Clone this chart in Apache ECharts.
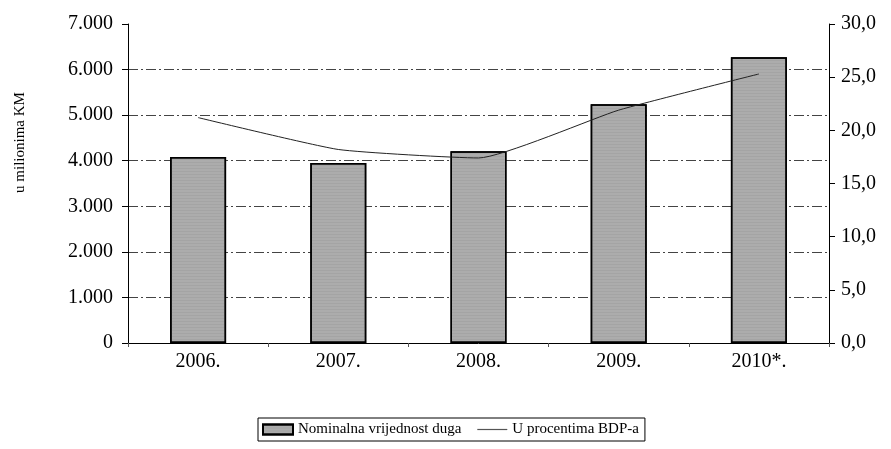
<!DOCTYPE html>
<html>
<head>
    <meta charset="utf-8">
    <title>Dug</title>
    <script src="https://cdn.jsdelivr.net/npm/echarts@6/dist/echarts.min.js"></script>
    <style>
        *{margin: 0;padding: 0;}
        body{background: #fff;}
    </style>
</head>
<body>
    <div id="main" style="width: 891px;height:449px;"></div>
    <script type="text/javascript">
        // podaci
        var years = ['2006.', '2007.', '2008.', '2009.', '2010*.'];
        var nominal = [4080, 3950, 4210, 5240, 6270];
        var percentGdp = [21.2, 18.2, 17.4, 21.9, 25.3];

        var serif = 'Liberation Serif';
        var myChart = echarts.init(document.getElementById('main'));

        var option = {
            animation: false,
            backgroundColor: '#fff',
            grid: { left: 128, right: 62, top: 24, bottom: 106 },
            legend: {
                left: 258,
                top: 418,
                padding: [4, 6, 4, 4],
                borderColor: '#000',
                borderWidth: 1,
                borderRadius: 0,
                itemGap: 16,
                itemWidth: 30,
                itemHeight: 10,
                textStyle: { fontFamily: serif, fontSize: 15, color: '#000' },
                data: [
                    { name: 'Nominalna vrijednost duga', icon: 'rect' },
                    { name: 'U procentima BDP-a', icon: 'path://M0,0 L100,0 L100,4 L0,4 Z',
                      itemStyle: { color: '#555' } }
                ]
            },
            xAxis: {
                type: 'category',
                data: years,
                axisLine: { lineStyle: { color: '#000', width: 1 } },
                axisTick: { show: true, length: 4, lineStyle: { color: '#555' } },
                axisLabel: { fontFamily: serif, fontSize: 20, color: '#000', margin: 9 }
            },
            yAxis: [
                {
                    type: 'value',
                    min: 0, max: 7000, interval: 1000,
                    name: 'u milionima KM',
                    nameLocation: 'middle',
                    nameRotate: 90,
                    nameGap: 100,
                    nameTextStyle: { fontFamily: serif, fontSize: 15, color: '#000', padding: [0, 0, 0, 82] },
                    axisLine: { show: true, lineStyle: { color: '#000' } },
                    axisTick: { show: true, length: 6, lineStyle: { color: '#000' } },
                    axisLabel: {
                        fontFamily: serif, fontSize: 20, color: '#000', margin: 15,
                        formatter: function (v) {
                            return v === 0 ? '0' : String(v).replace(/\B(?=(\d{3})+(?!\d))/g, '.');
                        }
                    },
                    splitLine: {
                        show: true,
                        showMinLine: false,
                        showMaxLine: false,
                        lineStyle: { color: '#444', width: 1, type: [10, 3, 2, 3] }
                    }
                },
                {
                    type: 'value',
                    min: 0, max: 30, interval: 5,
                    position: 'right',
                    axisLine: { show: true, lineStyle: { color: '#000' } },
                    axisTick: { show: true, length: 6, lineStyle: { color: '#000' } },
                    axisLabel: {
                        fontFamily: serif, fontSize: 20, color: '#000', margin: 12,
                        formatter: function (v) { return v.toFixed(1).replace('.', ','); }
                    },
                    splitLine: { show: false }
                }
            ],
            series: [
                {
                    name: 'Nominalna vrijednost duga',
                    type: 'bar',
                    data: nominal,
                    barWidth: 56,
                    itemStyle: {
                        color: '#acacac',
                        borderColor: '#000',
                        borderWidth: 1.5,
                        decal: {
                            symbol: 'rect',
                            symbolSize: 0.5,
                            color: 'rgba(80,80,80,0.35)',
                            dashArrayX: [1, 0],
                            dashArrayY: [1, 2],
                            rotation: 0
                        }
                    }
                },
                {
                    name: 'U procentima BDP-a',
                    type: 'line',
                    yAxisIndex: 1,
                    data: percentGdp,
                    symbol: 'none',
                    smooth: 0.15,
                    z: 5,
                    lineStyle: { color: '#222', width: 1 },
                    itemStyle: { color: '#222' }
                }
            ]
        };

        myChart.setOption(option);
    </script>
</body>
</html>
